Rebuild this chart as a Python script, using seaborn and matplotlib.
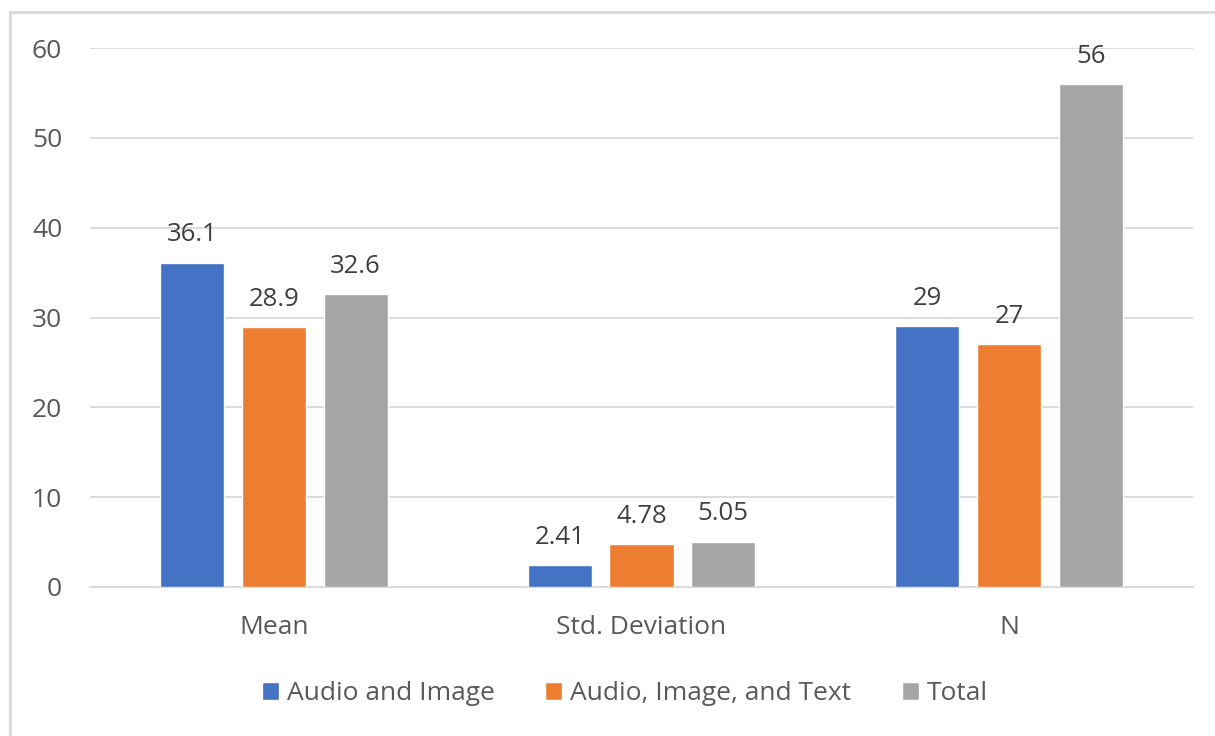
import pandas as pd
import seaborn as sns
import matplotlib.pyplot as plt
from matplotlib.patches import Rectangle

# values
stats = ['Mean', 'Std. Deviation', 'N']
groups = ['Audio and Image', 'Audio, Image, and Text', 'Total']
audio_image = [36.1, 2.41, 29]
audio_image_text = [28.9, 4.78, 27]
total = [32.6, 5.05, 56]
bar_labels = [['36.1', '2.41', '29'], ['28.9', '4.78', '27'], ['32.6', '5.05', '56']]

colors = ['#4472C4', '#ED7D31', '#A5A5A5']

data = pd.DataFrame({
    'Statistic': stats * 3,
    'Group': [g for g in groups for _ in stats],
    'Value': audio_image + audio_image_text + total,
})

sns.set_style('white')
plt.rcParams['font.family'] = ['Open Sans', 'DejaVu Sans']

fig = plt.figure(figsize=(12.15, 7.36), dpi=100)
ax = fig.add_axes([90 / 1215, 1 - 587 / 736, (1193 - 90) / 1215, (587 - 48) / 736])

plot = sns.barplot(data=data, x='Statistic', y='Value', hue='Group',
                   palette=colors, width=0.667, gap=0.216, saturation=1,
                   ax=ax, zorder=3)

for cont, labs in zip(ax.containers, bar_labels):
    ax.bar_label(cont, labels=labs, padding=11, fontsize=18.5, color='#404040')

ax.set_ylim(0, 60)
ax.set_xlim(-0.5, 2.5)
ax.set_yticks(range(0, 61, 10))
ax.yaxis.grid(True, color='#d9d9d9', linewidth=1.3, zorder=0)
ax.xaxis.grid(False)
for s in ['top', 'right', 'left']:
    ax.spines[s].set_visible(False)
ax.spines['bottom'].set_color('#d9d9d9')
ax.spines['bottom'].set_linewidth(1.3)
ax.tick_params(axis='both', length=0, labelsize=19, colors='#595959')
ax.tick_params(axis='y', pad=20)
ax.tick_params(axis='x', pad=20)
ax.set_xlabel('')
ax.set_ylabel('')

handles, labels = ax.get_legend_handles_labels()
ax.legend(handles, labels, loc='center', bbox_to_anchor=(625 / 1215, 1 - 694 / 736),
          bbox_transform=fig.transFigure, ncol=3, frameon=False, fontsize=19,
          handlelength=0.65, handleheight=0.65, handletextpad=0.3, columnspacing=1.9,
          labelcolor='#595959')

# outer chart frame (cropped on the right and bottom)
fig.patches.append(Rectangle((10 / 1215, -0.1), 1.2, 1.1 - 12 / 736,
                             transform=fig.transFigure, fill=False,
                             edgecolor='#d9d9d9', linewidth=2))

fig.savefig('out.png', dpi=100)
